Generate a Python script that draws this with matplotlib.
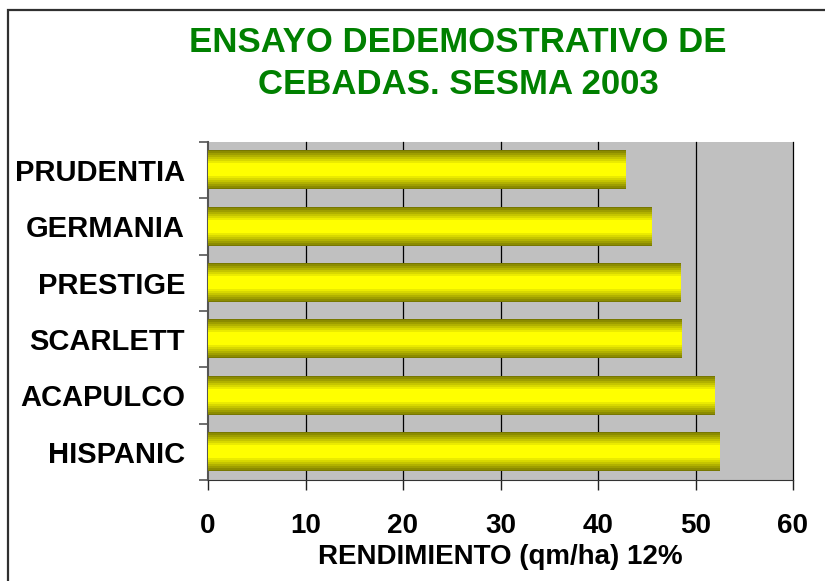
import matplotlib
matplotlib.use("Agg")
import matplotlib.pyplot as plt
import numpy as np
from matplotlib.patches import Rectangle

categories = ["HISPANIC", "ACAPULCO", "SCARLETT", "PRESTIGE", "GERMANIA", "PRUDENTIA"]
values = [52.5, 52.0, 48.6, 48.5, 45.5, 42.8]
xticks = [0, 10, 20, 30, 40, 50, 60]
title_lines = ["ENSAYO DEDEMOSTRATIVO DE", "CEBADAS. SESMA 2003"]
xlabel = "RENDIMIENTO (qm/ha) 12%"

plt.rcParams['font.family'] = ['Liberation Sans', 'DejaVu Sans']
plt.rcParams['font.weight'] = 'bold'

W, H = 825, 581
fig = plt.figure(figsize=(W / 100, H / 100), dpi=100)
fig.patch.set_facecolor('white')

# figure border
fig.patches.append(Rectangle((8 / W, -0.1), 1.2, 1 - 10 / H + 0.1, transform=fig.transFigure,
                             fill=False, edgecolor='#303030', linewidth=1.6, zorder=0))

ax = fig.add_axes([208 / W, 1 - 480 / H, (793 - 208) / W, (480 - 142) / H])
ax.set_facecolor('#c0c0c0')

# banded gradient for bars (dark olive edges, yellow centre)
n = 40
t = np.abs(np.linspace(-1, 1, n))
lvl = np.clip((t - 0.3) / 0.7, 0, 1)
lvl = np.round(lvl * 7) / 7
dark = np.array([0.47, 0.47, 0.0])
light = np.array([1.0, 1.0, 0.0])
grad = (light[None, :] * (1 - lvl[:, None]) + dark[None, :] * lvl[:, None])[:, None, :]

bh = 0.675
ypos = np.arange(len(categories))
for y, v in zip(ypos, values):
    ax.imshow(grad, extent=[0, v, y - bh / 2, y + bh / 2], aspect='auto',
              interpolation='nearest', zorder=3, origin='upper')

ax.set_xlim(0, 60)
ax.set_ylim(-0.5, len(categories) - 0.5)
ax.set_xticks(xticks)
ax.set_xticklabels([str(x) for x in xticks], fontsize=20, fontweight='bold')
ax.set_yticks(ypos)
ax.set_yticklabels(categories, fontsize=21, fontweight='bold')
ax.tick_params(axis='y', which='major', length=0, pad=16.5)
ax.set_yticks(np.arange(-0.5, len(categories), 1.0), minor=True)
ax.tick_params(axis='y', which='minor', length=6.5, width=1.2, color='#555555', direction='out')
ax.tick_params(axis='x', length=7, width=1.0, color='#222222', direction='out', pad=17)

for x in xticks[1:]:
    ax.axvline(x, color='black', linewidth=0.9, zorder=1, clip_on=False)

for s in ['top', 'right']:
    ax.spines[s].set_visible(False)
ax.spines['left'].set_color('#555555')
ax.spines['left'].set_linewidth(1.5)
ax.spines['bottom'].set_color('#333333')
ax.spines['bottom'].set_linewidth(0.8)

ax.set_xlabel(xlabel, fontsize=20, fontweight='bold', labelpad=3)

fig.text(458 / W, 1 - 43 / H, title_lines[0], ha='center', va='center',
         fontsize=25, fontweight='bold', color='#008000')
fig.text(458 / W, 1 - 85 / H, title_lines[1], ha='center', va='center',
         fontsize=25, fontweight='bold', color='#008000')

fig.savefig('out.png', dpi=100, facecolor='white')
